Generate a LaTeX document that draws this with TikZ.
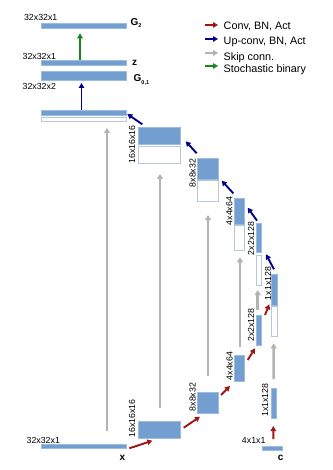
\documentclass[tikz,border=0pt]{standalone}
\usepackage{fontspec}
\setmainfont{Liberation Sans}
\usetikzlibrary{arrows.meta,calc}
\definecolor{bfill}{HTML}{729FCF}
\definecolor{bedge}{HTML}{9DBBE0}
\definecolor{eedge}{HTML}{B4C7DC}
\definecolor{cred}{HTML}{A31515}
\definecolor{cblue}{HTML}{00008B}
\definecolor{cgray}{HTML}{B3B3B3}
\definecolor{cgreen}{HTML}{17871C}
\begin{document}
\begin{tikzpicture}[x=1pt,y=-1pt,
  fbar/.style={draw=bedge, line width=0.5pt, fill=bfill, inner sep=0pt, outer sep=0pt},
  ebar/.style={draw=eedge, line width=0.8pt, fill=white, inner sep=0pt, outer sep=0pt},
  lbl/.style={inner sep=0pt, font=\fontsize{8.8}{10}\selectfont},
  rlbl/.style={lbl, rotate=90},
  glbl/.style={inner sep=0pt, anchor=west, font=\fontsize{10}{12}\selectfont\bfseries},
  leg/.style={inner sep=0pt, anchor=base west, font=\fontsize{10.8}{13}\selectfont},
  tip/.style={-{Triangle[length=5pt,width=5.5pt]}},
  convarr/.style={tip, draw=cred, line width=1.9pt},
  uparr/.style={tip, draw=cblue, line width=1.9pt},
  skiparr/.style={-{Triangle[length=5pt,width=6pt]}, draw=cgray, line width=2.6pt},
  stoarr/.style={tip, draw=cgreen, line width=1.9pt}
]
\useasboundingbox (0,0) rectangle (332,470);

% ---- top outputs ----
\node[fbar, minimum width=85, minimum height=4.5] (G2) at (83.5,25.75) {};
\node[fbar, minimum width=85, minimum height=4.5] (Z) at (83.5,62.75) {};
\node[fbar, minimum width=85, minimum height=8.5] (G01) at (83.5,75.75) {};
\node[lbl] (lG2) at (40.7,17.5) {32x32x1};
\node[lbl] (lZ) at (39.3,56) {32x32x1};
\node[lbl] (lG01) at (39.3,86) {32x32x2};
\node[glbl] (nG2) at (130.5,23) {G\raisebox{-2.5pt}{\fontsize{5.5}{6}\selectfont 2}};
\node[glbl] (nZ) at (132,62.5) {z};
\node[glbl] (nG01) at (133.5,80) {G\raisebox{-3pt}{\fontsize{5.5}{6}\selectfont 0,1}};

% ---- decoder ----
\node[fbar, minimum width=85, minimum height=5] (D32f) at (83.5,113) {};
\node[ebar, minimum width=85, minimum height=4.4] (D32e) at (83.5,119.5) {};
\node[fbar, minimum width=42.4, minimum height=16.7] (D16f) at (159.5,135.65) {};
\node[ebar, minimum width=42.4, minimum height=17.3] (D16e) at (159.5,154.65) {};
\node[fbar, minimum width=21.4, minimum height=21.3] (D8f) at (208,168.65) {};
\node[ebar, minimum width=21.4, minimum height=21] (D8e) at (208,191.2) {};
\node[fbar, minimum width=10.7, minimum height=25.7] (D4f) at (239.35,211.15) {};
\node[ebar, minimum width=10.7, minimum height=24.5] (D4e) at (239.35,237.75) {};
\node[fbar, minimum width=5.7, minimum height=29.4] (D2f) at (258.85,238) {};
\node[ebar, minimum width=5.7, minimum height=29.7] (D2e) at (258.85,270.15) {};
\node[fbar, minimum width=5.6, minimum height=30.7] (D1f) at (274.5,289.65) {};
\node[ebar, minimum width=5.6, minimum height=29.3] (D1e) at (274.5,321.35) {};
\node[rlbl] (lD16) at (132,144.5) {16x16x16};
\node[rlbl] (lD8) at (192.7,173) {8x8x32};
\node[rlbl] (lD4) at (229.3,211) {4x4x64};
\node[rlbl] (lD2) at (251,238.5) {2x2x128};
\node[rlbl] (lD1) at (268,283.5) {1x1x128};

% ---- encoder ----
\node[fbar, minimum width=85, minimum height=4.4] (X) at (83.5,446.5) {};
\node[fbar, minimum width=42, minimum height=17.3] (E16) at (159.3,429.65) {};
\node[fbar, minimum width=21.4, minimum height=21.3] (E8) at (208,402.65) {};
\node[fbar, minimum width=10.3, minimum height=25.7] (E4) at (239.15,368.15) {};
\node[fbar, minimum width=5.7, minimum height=30] (E2) at (258.85,330) {};
\node[fbar, minimum width=5.3, minimum height=30] (E1) at (273.65,403.3) {};
\node[fbar, minimum width=20, minimum height=4] (C) at (272.7,448.7) {};
\node[lbl] (lX) at (43.3,440) {32x32x1};
\node[lbl] (lC) at (253.7,440.7) {4x1x1};
\node[glbl, anchor=center] (nX) at (122.5,457.5) {x};
\node[glbl, anchor=center] (nC) at (280.7,458) {c};
\node[rlbl] (lE16) at (132,418.5) {16x16x16};
\node[rlbl] (lE8) at (192.7,397) {8x8x32};
\node[rlbl] (lE4) at (229.5,366) {4x4x64};
\node[rlbl] (lE2) at (251,325) {2x2x128};
\node[rlbl] (lE1) at (265,400) {1x1x128};

% ---- skip connections ----
\draw[skiparr] ($(X.north)+(23.5,-13.3)$) -- ($(D32e.south)+(23.5,6.3)$);
\draw[skiparr] ($(E16.north)+(0.7,-13)$) -- ($(D16e.south)+(0.5,10.7)$);
\draw[skiparr] ($(E8.north)+(0,-16)$) -- ($(D8e.south)+(0,13.3)$);
\draw[skiparr] ($(E4.north)+(0.85,-8.6)$) -- ($(D4e.south)+(0.65,7.3)$);
\draw[skiparr] ($(E2.north)+(-1.15,-5)$) -- ($(D2e.south)+(-1.15,5)$);
\draw[skiparr] ($(E1.north)+(0,-9.3)$) -- ($(D1e.south)+(-0.8,7.3)$);

% ---- conv arrows ----
\draw[convarr] ($(X.east)+(3.3,1.8)$) -- ($(E16.south west)+(14,2.4)$);
\draw[convarr] ($(E16.east)+(3.4,-1.95)$) -- ($(E8.south west)+(2.7,3.4)$);
\draw[convarr] ($(E8.north east)+(2.3,3)$) -- ($(E4.south west)+(-4,5)$);
\draw[convarr] ($(E4.north east)+(3.4,4.7)$) -- ($(E2.south west)+(-1,3.3)$);
\draw[convarr] ($(E2.north east)+(3.3,0)$) -- ($(D1f.south west)+(-2.4,-0.7)$);
\draw[convarr] ($(C.north)+(0.6,-7.7)$) -- ($(E1.south)+(-0.35,7.7)$);

% ---- up-conv arrows ----
\draw[uparr] ($(D16f.north west)+(4,-3)$) -- ($(D32f.east)+(1.3,1)$);
\draw[uparr] ($(D8f.north west)+(-0.6,-4.7)$) -- ($(D16f.east)+(5,5.65)$);
\draw[uparr] ($(D4f.north west)+(-0.7,-5)$) -- ($(D8f.south east)+(3,1.4)$);
\draw[uparr] ($(D2f.north west)+(1,-2.6)$) -- ($(D4f.north east)+(3,9.4)$);
\draw[uparr] ($(D1f.north)+(-0.5,-5)$) -- ($(D2f.south east)+(4.3,1.6)$);
\draw[uparr] ($(D32f.north)+(-2,-0.5)$) -- ($(G01.south)+(-2,3)$);
\draw[stoarr] ($(Z.north)+(-3.5,-0.5)$) -- ($(G2.south)+(-3.5,5.3)$);

% ---- legend ----
\coordinate (a1) at (205,25);   \coordinate (b1) at (218,25);
\coordinate (a2) at (205,39);   \coordinate (b2) at (218,39);
\coordinate (a3) at (205,53);   \coordinate (b3) at (218,53);
\coordinate (a4) at (205,66);   \coordinate (b4) at (218,66);
\draw[convarr] (a1) -- (b1);
\draw[uparr] (a2) -- (b2);
\draw[skiparr, line width=2.2pt] (a3) -- (b3);
\draw[stoarr] (a4) -- (b4);
\node[leg] (t1) at (223.5,30) {Conv, BN, Act};
\node[leg] (t2) at (223.5,44.5) {Up-conv, BN, Act};
\node[leg] (t3) at (223.5,61) {Skip conn.};
\node[leg] (t4) at (223.5,73) {Stochastic binary};
\end{tikzpicture}
\end{document}
